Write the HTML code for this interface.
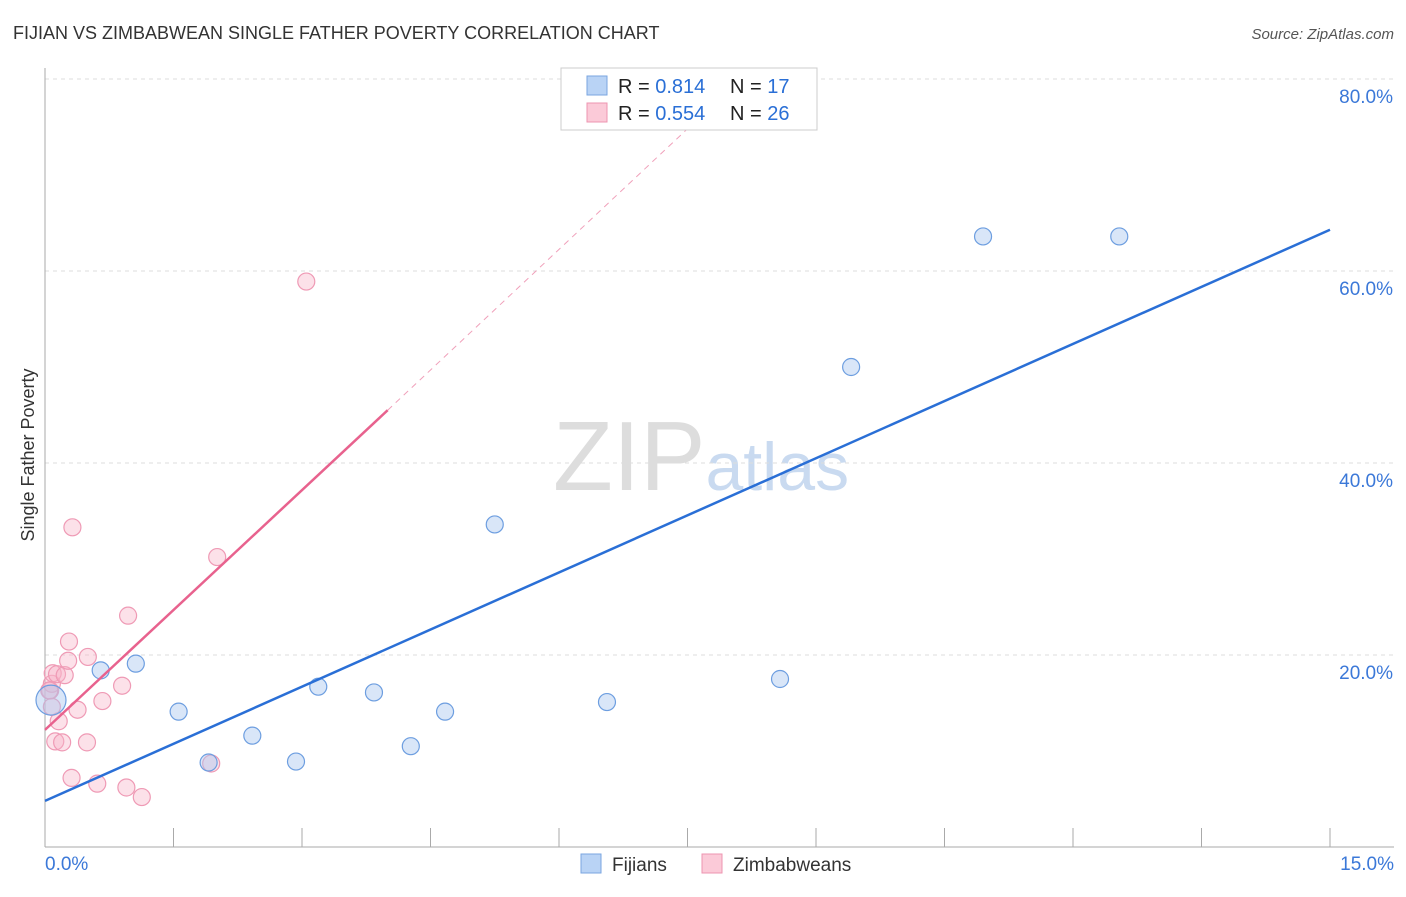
<!DOCTYPE html>
<html><head><meta charset="utf-8"><style>
body{margin:0;background:#fff;font-family:"Liberation Sans",sans-serif;}
svg text{font-family:"Liberation Sans",sans-serif;}
</style></head><body>
<svg id="c" width="1406" height="892">
<text x="13" y="39" font-size="18" fill="#333">FIJIAN VS ZIMBABWEAN SINGLE FATHER POVERTY CORRELATION CHART</text>
<text x="1394" y="39" font-size="15" fill="#555" font-style="italic" text-anchor="end">Source: ZipAtlas.com</text>
<text x="553" y="490" font-size="98" fill="#ddd" font-family="Liberation Serif">ZIP<tspan fill="#c9daf0" font-family="Liberation Sans" font-size="68">atlas</tspan></text>
<g id="grid"></g><g id="marks"></g>
<text transform="translate(34,455) rotate(-90)" font-size="18" fill="#333" text-anchor="middle">Single Father Poverty</text>
<g>
<rect x="561" y="68" width="256" height="62" fill="#fff" stroke="#ccc"/>
<rect x="587" y="76" width="20" height="19" fill="#b9d3f5" stroke="#7aa6e0"/>
<rect x="587" y="103" width="20" height="19" fill="#fbcad8" stroke="#ee94b0"/>
<text x="618" y="93" font-size="20" fill="#222">R = <tspan fill="#2a6fd6">0.814</tspan><tspan x="730">N = </tspan><tspan fill="#2a6fd6">17</tspan></text>
<text x="618" y="120" font-size="20" fill="#222">R = <tspan fill="#2a6fd6">0.554</tspan><tspan x="730">N = </tspan><tspan fill="#2a6fd6">26</tspan></text>
</g>
<g>
<rect x="581" y="854" width="20" height="19" fill="#b9d3f5" stroke="#7aa6e0"/>
<text x="612" y="871" font-size="19" fill="#333">Fijians</text>
<rect x="702" y="854" width="20" height="19" fill="#fbcad8" stroke="#ee94b0"/>
<text x="733" y="871" font-size="19" fill="#333">Zimbabweans</text>
</g>
</svg>
<script>
const yTicks=[20,40,60,80];
const yTickLabels=["20.0%","40.0%","60.0%","80.0%"];
const xEndLabels=["0.0%","15.0%"];
const fijiX=[0.07,0.65,1.06,1.56,1.91,2.42,2.93,3.19,3.84,4.27,4.67,5.25,6.56,8.58,9.41,10.95,12.54];
const fijiY=[15.3,18.4,19.1,14.1,8.8,11.6,8.9,16.7,16.1,10.5,14.1,33.6,15.1,17.5,50.0,63.6,63.6];
const zimX=[0.06,0.08,0.05,0.09,0.14,0.23,0.27,0.28,0.32,0.31,0.12,0.2,0.16,0.38,0.5,0.49,0.61,0.67,0.9,0.95,0.97,1.13,1.94,2.01,3.05,0.08];
const zimY=[16.3,17.0,16.3,18.1,18.0,17.9,19.4,21.4,33.3,7.2,11.0,10.9,13.1,14.3,19.8,10.9,6.6,15.2,16.8,6.2,24.1,5.2,8.7,30.2,58.9,14.6];
const fijiLine=[[0,4.8],[15,64.3]];
const zimLine=[[0,12.2],[4,45.5]];
const zimDash=[[4,45.5],[8,79]];
const X=v=>45+v*1285/15, Y=v=>847-v*9.6;
const NS="http://www.w3.org/2000/svg";
function mk(t,a,p){const e=document.createElementNS(NS,t);for(const k in a)e.setAttribute(k,a[k]);p.appendChild(e);return e;}
const g=document.getElementById('grid'), m=document.getElementById('marks');
yTicks.forEach((t,i)=>{
 const l=mk('line',{x1:45,x2:1394,y1:Y(t),y2:Y(t),stroke:'#ddd','stroke-dasharray':'4,4'},g);
 
 
 const tx=mk('text',{x:1393,y:Y(t)+24,'font-size':19,fill:'#3b78d8','text-anchor':'end'},g);
 tx.textContent=yTickLabels[i];
 
 
});
mk('line',{x1:45,x2:45,y1:68,y2:847,stroke:'#aaa'},g);
mk('line',{x1:45,x2:1394,y1:847,y2:847,stroke:'#aaa'},g);
for(let i=0;i<=10;i++){const t=mk('line',{x1:X(i*1.5),x2:X(i*1.5),y1:828,y2:847,stroke:'#aaa'},g);
 
 }
const x0=mk('text',{x:45,y:870,'font-size':19,fill:'#3b78d8'},g);x0.textContent=xEndLabels[0];


const x1=mk('text',{x:1394,y:870,'font-size':19,fill:'#3b78d8','text-anchor':'end'},g);x1.textContent=xEndLabels[1];


zimX.forEach((v,i)=>{const c=mk('circle',{cx:X(v),cy:Y(zimY[i]),r:8.5,fill:'rgba(248,180,200,0.4)',stroke:'#ef9ab5','stroke-width':1.2},m);
 
 });
fijiX.forEach((v,i)=>{const c=mk('circle',{cx:X(v),cy:Y(fijiY[i]),r:i==0?15:8.5,fill:'rgba(170,200,240,0.45)',stroke:'#6d9ee0','stroke-width':1.2},m);
 
 });
const bl=mk('line',{x1:X(fijiLine[0][0]),y1:Y(fijiLine[0][1]),x2:X(fijiLine[1][0]),y2:Y(fijiLine[1][1]),stroke:'#2a6fd6','stroke-width':2.5},m);


const pl=mk('line',{x1:X(zimLine[0][0]),y1:Y(zimLine[0][1]),x2:X(zimLine[1][0]),y2:Y(zimLine[1][1]),stroke:'#e8628e','stroke-width':2.5},m);


const pd=mk('line',{x1:X(zimDash[0][0]),y1:Y(zimDash[0][1]),x2:X(zimDash[1][0]),y2:Y(zimDash[1][1]),stroke:'#f0a0ba','stroke-width':1,'stroke-dasharray':'6,5'},m);


</script>
</body></html>
